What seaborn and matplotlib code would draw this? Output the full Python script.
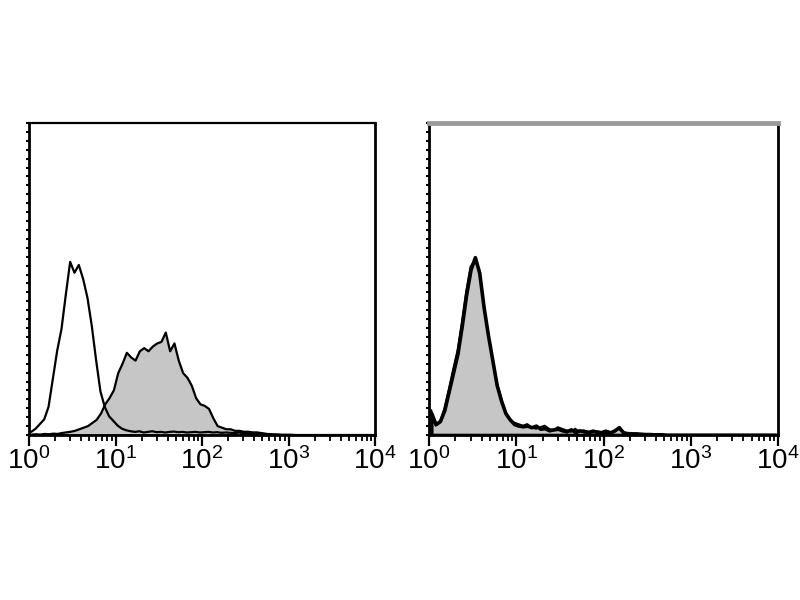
import numpy as np
import matplotlib
matplotlib.use("Agg")
import matplotlib.pyplot as plt
from matplotlib.ticker import LogLocator, NullFormatter
import seaborn as sns

# histogram counts, 80 bins evenly spaced in log10 from 10^0 to 10^4
left_open = [1.0, 2.0, 3.5, 5.0, 9.0, 18.0, 27.0, 34.0, 45.0, 55.5,
             52.0, 54.5, 50.0, 44.0, 35.0, 24.0, 14.0, 9.0, 6.0, 4.5,
             3.0, 2.0, 1.5, 1.2, 1.0, 1.2, 0.8, 1.0, 1.2, 0.9,
             1.0, 0.8, 1.0, 1.1, 0.9, 1.0, 0.8, 0.9, 1.0, 0.8,
             0.9, 1.0, 0.8, 0.9, 0.7, 0.8, 0.7, 0.6, 0.8, 0.6,
             0.6, 0.5, 0.6, 0.5, 0.4, 0.3, 0.2, 0.2, 0.1, 0.1,
             0.1, 0, 0, 0, 0, 0, 0, 0, 0, 0,
             0, 0, 0, 0, 0, 0, 0, 0, 0, 0]
left_filled = [0.3, 0.4, 0.3, 0.5, 0.4, 0.6, 0.5, 0.8, 1.0, 1.2,
               1.5, 2.0, 2.5, 3.0, 4.0, 5.0, 7.0, 10.0, 12.0, 14.5,
               20.0, 23.0, 26.5, 25.0, 24.0, 27.0, 28.0, 27.0, 28.5, 29.5,
               30.0, 33.0, 27.0, 29.5, 24.0, 20.0, 18.5, 16.0, 12.0, 10.0,
               9.5, 8.5, 5.5, 3.0, 2.5, 2.0, 2.0, 1.5, 1.5, 1.2,
               1.2, 1.0, 1.0, 0.8, 0.5, 0.3, 0.2, 0.1, 0.1, 0,
               0, 0, 0, 0, 0, 0, 0, 0, 0, 0,
               0, 0, 0, 0, 0, 0, 0, 0, 0, 0]
right_open = [8.0, 3.0, 4.0, 8.5, 14.5, 21.0, 27.0, 36.0, 46.0, 54.0,
              56.0, 53.0, 42.0, 33.0, 25.0, 17.0, 12.0, 7.5, 5.0, 4.0,
              3.5, 3.0, 3.5, 2.5, 2.0, 2.5, 3.0, 2.0, 1.5, 2.5,
              2.0, 1.5, 1.0, 2.0, 1.0, 1.5, 1.0, 0.8, 1.2, 1.0,
              1.5, 1.0, 1.0, 2.0, 1.0, 0.5, 0.5, 0.4, 0.3, 0.3,
              0.2, 0.2, 0.1, 0, 0, 0, 0, 0, 0, 0,
              0, 0, 0, 0, 0, 0, 0, 0, 0, 0,
              0, 0, 0, 0, 0, 0, 0, 0, 0, 0]
right_filled = [7.0, 3.5, 4.5, 8.0, 14.0, 20.0, 26.0, 35.0, 45.0, 53.0,
                57.0, 52.0, 41.0, 32.0, 24.0, 16.0, 11.0, 7.0, 5.0, 3.5,
                3.0, 2.8, 3.0, 2.5, 3.0, 2.0, 2.2, 1.5, 1.8, 2.0,
                1.5, 1.2, 1.8, 1.0, 1.5, 1.2, 1.0, 1.4, 1.0, 0.8,
                1.2, 0.8, 1.5, 2.5, 0.8, 0.6, 0.5, 0.5, 0.4, 0.3,
                0.3, 0.2, 0.2, 0.1, 0, 0, 0, 0, 0, 0,
                0, 0, 0, 0, 0, 0, 0, 0, 0, 0,
                0, 0, 0, 0, 0, 0, 0, 0, 0, 0]
decades = [0, 1, 2, 3, 4]

sns.set_style("ticks")
plt.rcParams["font.family"] = ["Liberation Sans", "DejaVu Sans"]
plt.rcParams["mathtext.fontset"] = "custom"
plt.rcParams["mathtext.rm"] = "Liberation Sans"

n_bins = len(left_open)
log_edges = np.linspace(0, 4, n_bins + 1)
centers = 10 ** ((log_edges[:-1] + log_edges[1:]) / 2)

fig = plt.figure(figsize=(8, 6), dpi=100)
ax_l = fig.add_axes([0.03625, 0.275, 0.4325, 0.52])
ax_r = fig.add_axes([0.53625, 0.275, 0.43625, 0.52])


def draw_panel(ax, filled, open_, filled_lw, open_lw, top_color, top_lw):
    sns.histplot(x=centers, weights=filled, bins=n_bins, binrange=(0, 4),
                 log_scale=True, element="poly", fill=True,
                 color="#c6c6c6", edgecolor="black", linewidth=filled_lw,
                 alpha=1, ax=ax)
    sns.histplot(x=centers, weights=open_, bins=n_bins, binrange=(0, 4),
                 log_scale=True, element="poly", fill=False,
                 color="black", linewidth=open_lw, ax=ax)
    ax.set_xlim(1, 1e4)
    ax.set_ylim(0, 100)
    ax.set_xlabel("")
    ax.set_ylabel("")
    ax.set_xticks([10 ** d for d in decades])
    ax.set_xticklabels([rf"$\mathregular{{10^{d}}}$" for d in decades], fontsize=20)
    ax.xaxis.set_minor_locator(LogLocator(base=10, subs=np.arange(2, 10)))
    ax.xaxis.set_minor_formatter(NullFormatter())
    ax.tick_params(axis="x", which="major", direction="out", length=8, width=1.6,
                   pad=1, colors="black")
    ax.tick_params(axis="x", which="minor", direction="out", length=4, width=1.3,
                   colors="black")
    ax.set_yticks(np.linspace(0, 100, 36))
    ax.set_yticklabels([])
    ax.tick_params(axis="y", direction="out", length=2.5, width=1.5, colors="black")
    for side in ["left", "bottom", "right"]:
        ax.spines[side].set_color("black")
        ax.spines[side].set_linewidth(2.0)
    ax.spines["top"].set_color(top_color)
    ax.spines["top"].set_linewidth(top_lw)


draw_panel(ax_l, left_filled, left_open, 1.6, 1.6, "black", 1.6)
draw_panel(ax_r, right_filled, right_open, 2.6, 1.4, "#9a9a9a", 3.5)

fig.savefig("out.png", dpi=100)
